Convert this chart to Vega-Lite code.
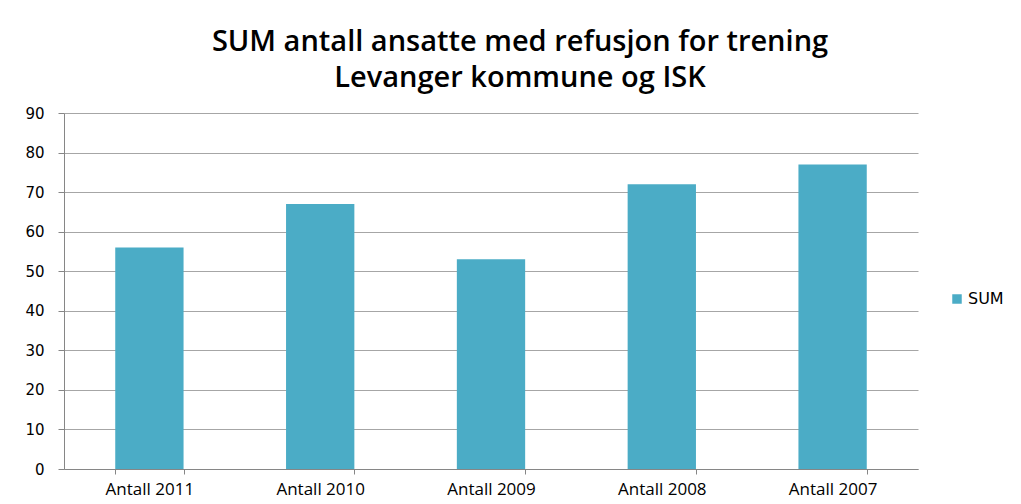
{
  "$schema": "https://vega.github.io/schema/vega-lite/v6.json",
  "width": 854,
  "height": 356,
  "autosize": {"type": "none"},
  "padding": {"left": 64, "top": 113, "right": 103, "bottom": 35},
  "background": "white",
  "title": {
    "text": ["SUM antall ansatte med refusjon for trening", "Levanger kommune og ISK"],
    "font": "Open Sans",
    "fontSize": 29,
    "fontWeight": 600,
    "color": "#000000",
    "anchor": "middle",
    "dx": 29,
    "offset": 13,
    "lineHeight": 36
  },
  "data": {
    "values": [
      {"category": "Antall 2011", "series": "SUM", "value": 56},
      {"category": "Antall 2010", "series": "SUM", "value": 67},
      {"category": "Antall 2009", "series": "SUM", "value": 53},
      {"category": "Antall 2008", "series": "SUM", "value": 72},
      {"category": "Antall 2007", "series": "SUM", "value": 77}
    ]
  },
  "mark": {"type": "bar"},
  "encoding": {
    "x": {
      "field": "category",
      "type": "nominal",
      "sort": null,
      "scale": {"paddingInner": 0.6, "paddingOuter": 0.3},
      "axis": {
        "title": null,
        "labelAngle": 0,
        "labelFont": "Open Sans",
        "labelFontSize": 17,
        "labelColor": "#000000",
        "labelPadding": 7,
        "domainColor": "#868686",
        "tickColor": "#868686",
        "tickSize": 5,
        "tickBand": "extent",
        "grid": false
      }
    },
    "y": {
      "field": "value",
      "type": "quantitative",
      "scale": {"domain": [0, 90], "nice": false},
      "axis": {
        "title": null,
        "values": [0, 10, 20, 30, 40, 50, 60, 70, 80, 90],
        "labelFont": "DejaVu Sans",
        "labelFontSize": 15,
        "labelColor": "#000000",
        "labelPadding": 14,
        "domainColor": "#868686",
        "tickColor": "#868686",
        "tickSize": 6,
        "gridColor": "#a6a6a6",
        "gridOpacity": 1
      }
    },
    "color": {
      "field": "series",
      "type": "nominal",
      "scale": {"range": ["#4BACC6"]},
      "legend": {
        "title": null,
        "orient": "none",
        "legendX": 885,
        "legendY": 178,
        "symbolType": "square",
        "symbolSize": 90,
        "labelFont": "DejaVu Sans",
        "labelFontSize": 16,
        "labelColor": "#000000",
        "labelOffset": 3
      }
    }
  },
  "config": {
    "view": {"stroke": null}
  }
}
